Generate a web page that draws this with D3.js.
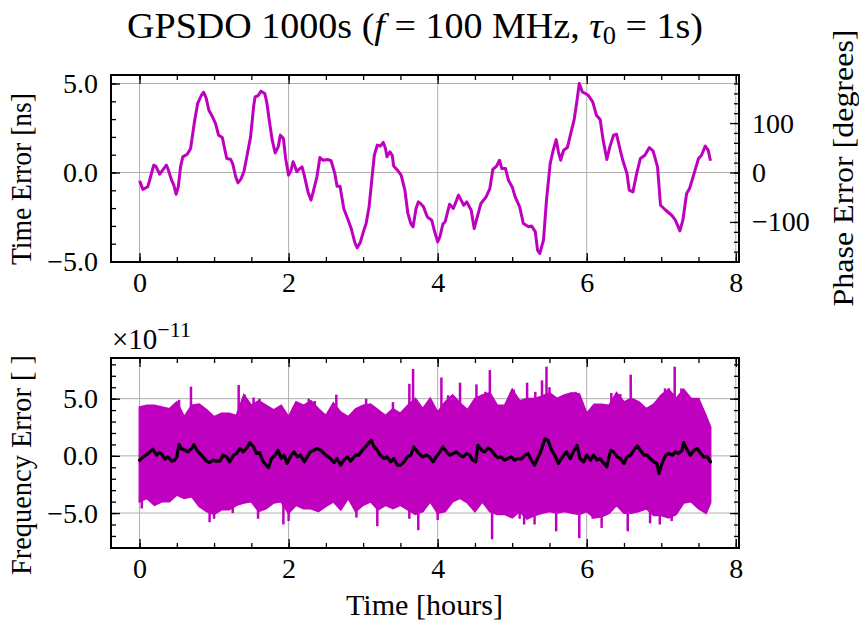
<!DOCTYPE html>
<html><head><meta charset="utf-8">
<script src="https://cdn.jsdelivr.net/npm/d3@7"></script>
<style>
body{margin:0;background:#fff}
svg{display:block}
text{font-family:"Liberation Serif","Times New Roman",serif;fill:#000}
</style>
</head><body>
<svg id="c" width="859" height="624"></svg>
<script>
// ---------- DATA ----------
// Time error (ns) vs time (hours)
const teHours = [0,0.045,0.11,0.13,0.19,0.22,0.27,0.31,0.36,0.38,0.43,0.46,0.49,0.52,0.55,0.58,0.64,0.685,0.74,0.78,0.83,0.86,0.895,0.93,0.975,1.02,1.06,1.11,1.17,1.22,1.25,1.29,1.32,1.36,1.40,1.43,1.49,1.53,1.55,1.59,1.63,1.68,1.71,1.74,1.78,1.82,1.86,1.89,1.93,1.96,2.0,2.03,2.06,2.08,2.11,2.15,2.18,2.21,2.26,2.30,2.33,2.38,2.42,2.46,2.53,2.57,2.62,2.65,2.69,2.74,2.80,2.84,2.89,2.92,2.96,3.01,3.04,3.08,3.12,3.15,3.19,3.23,3.27,3.30,3.32,3.36,3.39,3.41,3.46,3.51,3.56,3.60,3.64,3.67,3.71,3.74,3.77,3.81,3.86,3.92,3.96,4.0,4.03,4.07,4.10,4.16,4.21,4.28,4.35,4.39,4.45,4.49,4.52,4.58,4.65,4.70,4.74,4.79,4.83,4.86,4.91,4.95,5.0,5.04,5.10,5.15,5.22,5.26,5.31,5.34,5.37,5.42,5.46,5.51,5.55,5.59,5.62,5.65,5.69,5.74,5.78,5.83,5.87,5.90,5.94,5.98,6.02,6.08,6.13,6.18,6.22,6.27,6.31,6.36,6.40,6.45,6.49,6.54,6.57,6.62,6.67,6.72,6.78,6.84,6.89,6.95,6.99,7.06,7.14,7.19,7.25,7.29,7.34,7.38,7.44,7.50,7.54,7.59,7.63,7.66];
const teNs = [-0.47,-0.95,-0.8,-0.52,0.41,0.35,-0.09,0.13,0.41,0.22,-0.43,-0.71,-1.22,-0.8,0.32,0.88,1.03,1.35,2.94,3.88,4.34,4.51,4.16,3.5,3.16,2.75,2.1,1.97,0.79,0.75,0.5,-0.24,-0.58,-0.37,0.04,0.69,2.0,3.69,4.25,4.31,4.57,4.44,3.88,2.94,1.82,1.1,1.44,2.1,1.91,0.79,-0.15,0.09,0.6,0.41,0.04,0.22,0.32,-0.15,-1.09,-1.55,-1.09,-0.24,0.84,0.69,0.73,0.66,-0.06,-0.77,-0.77,-2.02,-2.68,-3.15,-3.95,-4.23,-3.95,-3.24,-2.87,-1.93,-0.24,0.97,1.54,1.48,1.69,1.35,0.88,1.16,0.97,0.36,0.13,-0.15,-0.99,-2.3,-2.87,-3.05,-2.02,-1.65,-1.74,-1.93,-2.49,-2.68,-3.33,-3.9,-3.61,-2.9,-2.77,-1.78,-2.02,-1.27,-1.84,-1.65,-2.12,-3.15,-2.68,-1.74,-1.37,-0.9,0.17,0.36,0.69,0.22,0.22,-0.43,-0.81,-1.37,-1.93,-2.87,-3.05,-3.0,-3.33,-4.36,-4.55,-3.8,-1.55,0.51,1.25,1.85,1.16,0.69,1.25,1.4,2.1,2.94,4.06,5.0,4.53,4.44,4.34,3.97,3.22,2.98,1.82,0.73,1.44,2.1,2.15,1.25,0.6,-0.06,-0.99,-1.09,-0.06,0.79,0.97,1.4,1.22,0.32,-1.84,-2.12,-2.4,-2.68,-3.28,-2.68,-1.18,-0.9,-0.06,0.79,0.97,1.48,1.25,0.66];

// Frequency error (x1e-11): envelope of the dense 1 s samples
const envHours = [0.0,0.1,0.2,0.3,0.4,0.5,0.6,0.7,0.8,0.9,1.0,1.1,1.2,1.3,1.4,1.5,1.6,1.7,1.8,1.9,2.0,2.1,2.2,2.3,2.4,2.5,2.6,2.7,2.8,2.9,3.0,3.1,3.2,3.3,3.4,3.5,3.6,3.7,3.8,3.9,4.0,4.1,4.2,4.3,4.4,4.5,4.6,4.7,4.8,4.9,5.0,5.1,5.2,5.3,5.4,5.5,5.6,5.7,5.8,5.9,6.0,6.1,6.2,6.3,6.4,6.5,6.6,6.7,6.8,6.9,7.0,7.1,7.2,7.3,7.4,7.5,7.6,7.66];
const envHigh = [4.25,4.4,4.4,4.25,4.1,4.7,3.4,4.4,4.5,4.0,3.4,3.7,3.7,3.5,5.3,4.4,4.8,4.4,4.0,4.4,3.4,4.7,4.4,4.8,4.1,3.5,4.6,3.8,3.4,4.1,4.4,4.5,4.0,3.5,4.1,3.7,4.4,5.0,4.1,5.0,3.8,4.7,5.3,4.6,4.0,5.0,5.3,5.5,4.4,4.4,5.8,4.8,5.0,5.0,5.2,5.5,5.0,5.3,5.5,5.4,3.7,4.5,4.5,4.4,5.5,4.7,5.0,4.7,4.1,4.5,5.3,5.8,5.0,5.8,5.0,5.0,3.5,2.5];
const envLow = [-4.0,-3.7,-4.3,-4.0,-4.0,-3.4,-3.7,-3.55,-4.4,-4.85,-5.1,-4.7,-4.7,-4.3,-4.1,-4.0,-4.85,-4.6,-4.1,-4.0,-5.0,-4.3,-4.6,-4.6,-4.85,-4.4,-4.0,-4.7,-3.7,-4.85,-4.3,-4.0,-4.7,-4.3,-4.6,-4.3,-4.7,-5.1,-4.85,-4.0,-5.0,-4.85,-4.0,-3.7,-4.1,-4.85,-4.0,-4.85,-5.1,-5.1,-5.4,-4.85,-5.5,-5.2,-5.0,-4.85,-5.0,-4.85,-5.0,-5.1,-4.85,-5.4,-5.3,-5.0,-4.3,-5.0,-5.0,-4.85,-4.6,-5.2,-5.2,-5.4,-5.1,-4.1,-4.0,-4.6,-5.0,-4.1];
// Individual spikes (hours, x1e-11)
const spikeHours = [0.53,0.69,1.33,1.41,1.53,1.61,2.27,2.35,2.64,3.04,3.40,3.62,3.67,4.05,4.14,4.30,4.52,4.64,4.70,4.98,5.02,5.20,5.31,5.40,5.46,5.50,5.85,6.33,6.45,6.59,7.05,7.10,7.18,7.27,7.50,
                    0.03,0.94,1.00,1.25,1.59,1.93,2.00,2.91,3.19,3.62,3.74,4.00,4.73,5.10,5.16,5.30,5.59,5.90,6.08,6.20,6.55,6.85,6.98,7.14];
const spikeVals = [4.9,6.05,6.2,5.35,5.1,5.0,5.0,4.8,5.35,5.0,4.7,6.3,7.6,6.85,5.3,6.4,6.25,5.6,7.5,5.5,5.8,6.4,5.6,6.6,7.8,6.0,5.6,5.5,5.4,7.1,5.9,5.9,7.8,5.9,5.0,
                   -4.6,-5.8,-5.5,-5.0,-5.5,-6.0,-5.7,-5.4,-6.15,-5.5,-6.5,-5.6,-7.3,-5.5,-6.0,-6.0,-6.6,-7.2,-5.5,-6.3,-6.6,-5.9,-6.0,-5.7];
// Moving average of frequency error (x1e-11)
const avgHours = [0.00,0.05,0.10,0.14,0.18,0.23,0.27,0.30,0.34,0.38,0.43,0.47,0.50,0.53,0.56,0.61,0.65,0.70,0.73,0.77,0.81,0.85,0.90,0.94,0.99,1.03,1.08,1.12,1.17,1.21,1.26,1.30,1.35,1.39,1.44,1.48,1.53,1.57,1.61,1.66,1.73,1.77,1.82,1.86,1.90,1.94,1.98,2.03,2.07,2.12,2.16,2.21,2.25,2.29,2.34,2.38,2.43,2.50,2.56,2.61,2.65,2.70,2.74,2.79,2.83,2.90,2.94,2.99,3.03,3.08,3.11,3.14,3.19,3.23,3.28,3.32,3.37,3.41,3.46,3.50,3.55,3.59,3.64,3.68,3.73,3.77,3.80,3.85,3.89,3.94,3.98,4.03,4.07,4.12,4.16,4.21,4.25,4.30,4.34,4.39,4.43,4.47,4.51,4.54,4.59,4.63,4.68,4.72,4.77,4.81,4.85,4.90,4.94,4.99,5.03,5.08,5.12,5.17,5.21,5.26,5.30,5.35,5.39,5.44,5.48,5.53,5.57,5.62,5.66,5.73,5.78,5.83,5.87,5.91,5.96,6.00,6.05,6.09,6.14,6.18,6.23,6.27,6.32,6.36,6.41,6.45,6.50,6.54,6.59,6.63,6.68,6.72,6.77,6.81,6.85,6.90,6.94,6.97,7.01,7.06,7.10,7.15,7.19,7.23,7.28,7.30,7.35,7.39,7.44,7.48,7.53,7.57,7.62,7.66];
const avgVals = [-0.38,-0.09,0.12,0.35,0.58,0.06,0.29,0.12,-0.29,-0.09,-0.46,-0.38,-0.09,0.98,0.64,0.49,0.35,0.64,0.98,0.49,0.20,-0.09,-0.46,-0.58,-0.38,-0.46,-0.46,0.06,-0.09,-0.52,0.06,0.20,0.64,0.35,0.69,1.16,0.78,0.20,0.29,-0.52,-1.04,-0.23,0.06,0.49,-0.23,0.06,-0.66,0.0,0.35,-0.09,0.06,-0.52,-0.09,0.35,0.49,0.64,0.49,0.06,-0.23,-0.58,-0.23,-0.81,-0.38,-0.09,-0.46,0.06,0.06,0.49,0.78,1.16,1.36,0.87,0.49,0.06,-0.23,-0.09,-0.52,-0.23,-0.81,-0.81,-0.52,-0.09,0.06,0.78,0.35,0.06,-0.09,0.06,-0.09,-0.52,-0.09,0.35,0.78,0.35,0.06,0.20,0.35,0.06,-0.09,0.20,0.06,-0.38,-0.52,0.92,0.49,0.35,0.69,0.49,0.06,-0.17,-0.09,-0.38,-0.23,-0.09,-0.38,-0.23,-0.29,0.06,0.20,-0.38,-0.81,-0.09,0.49,1.50,1.36,0.49,0.06,-0.66,-0.23,0.35,-0.23,0.49,0.92,-0.23,-0.52,0.06,-0.38,0.06,-0.38,-0.23,-0.66,-0.95,0.49,0.35,-0.09,-0.23,-0.66,-0.09,0.06,0.49,0.87,0.49,0.06,0.06,-0.23,-0.52,-0.66,-1.53,-0.66,0.06,0.20,0.06,0.35,0.20,0.49,1.16,0.49,0.06,0.49,0.64,0.20,-0.09,-0.09,-0.52];

// Tick values / labels
const xTickVals = [0, 2, 4, 6, 8];
const teTickVals = [-5, 0, 5];
const phaseTickVals = [-100, 0, 100];
const feTickVals = [-5, 0, 5];
const titleParts = ["GPSDO 1000s (", "f", " = 100 MHz, ", "τ", "0", " = 1s)"];
const degPerNs = 36; // 360° × 100 MHz × 1 ns

// ---------- LAYOUT ----------
const MAG = "#bf00bf";
const svg = d3.select("#c");
const L = 111, R = 739;
const top1 = 75, bot1 = 262, top2 = 358, bot2 = 548;
const FS = 28;
const minus = s => s.replace(/-/g, "\u2212");

function padDomain(lo, hi){ const p = (hi - lo) * 0.05; return [lo - p, hi + p]; }

const xMax = d3.max(teHours);
const x = d3.scaleLinear().domain(padDomain(0, xMax)).range([L, R]);
const y1 = d3.scaleLinear().domain(padDomain(d3.min(teNs), d3.max(teNs))).range([bot1, top1]);
const yPh = d3.scaleLinear().domain(y1.domain().map(v => v * degPerNs)).range([bot1, top1]);
const allF = envHigh.concat(envLow, spikeVals, avgVals);
const y2 = d3.scaleLinear().domain(padDomain(d3.min(allF), d3.max(allF))).range([bot2, top2]);

const xMinor = d3.range(0, 8.01, 0.5);
const y1Minor = d3.range(-5, 5.01, 1);
const phMinor = d3.range(-180, 181, 20);
const y2Minor = d3.range(-8, 8.01, 1);

const defs = svg.append("defs");
defs.append("clipPath").attr("id","cp1").append("rect").attr("x",L).attr("y",top1).attr("width",R-L).attr("height",bot1-top1);
defs.append("clipPath").attr("id","cp2").append("rect").attr("x",L).attr("y",top2).attr("width",R-L).attr("height",bot2-top2);

function grid(yScale, yVals, t, b){
  const g = svg.append("g").attr("stroke","#b0b0b0").attr("stroke-width",1);
  xTickVals.forEach(v => { if (x(v) > L && x(v) < R) g.append("line").attr("x1",x(v)).attr("x2",x(v)).attr("y1",t).attr("y2",b); });
  yVals.forEach(v => g.append("line").attr("x1",L).attr("x2",R).attr("y1",yScale(v)).attr("y2",yScale(v)));
}

function styleAxis(g){
  g.select(".domain").remove();
  g.selectAll(".tick line").attr("stroke","#000").attr("stroke-width",1.3);
  g.selectAll("text").style("font-size", FS + "px").attr("fill","#000").style("font-family",'"Liberation Serif",serif');
}

function frame(yL, yLmaj, yLmin, yR, yRmaj, yRmin, t, b, showRightLabels){
  styleAxis(svg.append("g").attr("transform",`translate(0,${b})`)
    .call(d3.axisBottom(x).tickValues(xTickVals).tickSize(-9).tickPadding(10).tickFormat(d3.format("d"))));
  styleAxis(svg.append("g").attr("transform",`translate(0,${b})`)
    .call(d3.axisBottom(x).tickValues(xMinor).tickSize(-5).tickFormat("")));
  styleAxis(svg.append("g").attr("transform",`translate(0,${t})`)
    .call(d3.axisTop(x).tickValues(xTickVals).tickSize(-9).tickFormat("")));
  styleAxis(svg.append("g").attr("transform",`translate(0,${t})`)
    .call(d3.axisTop(x).tickValues(xMinor).tickSize(-5).tickFormat("")));
  styleAxis(svg.append("g").attr("transform",`translate(${L},0)`)
    .call(d3.axisLeft(yL).tickValues(yLmaj).tickSize(-9).tickPadding(13).tickFormat(d => minus(d3.format(".1f")(d)))));
  styleAxis(svg.append("g").attr("transform",`translate(${L},0)`)
    .call(d3.axisLeft(yL).tickValues(yLmin.filter(v => yL(v) >= t && yL(v) <= b)).tickSize(-5).tickFormat("")));
  styleAxis(svg.append("g").attr("transform",`translate(${R},0)`)
    .call(d3.axisRight(yR).tickValues(yRmaj).tickSize(-9).tickPadding(13).tickFormat(showRightLabels ? (d => minus(String(d))) : "")));
  styleAxis(svg.append("g").attr("transform",`translate(${R},0)`)
    .call(d3.axisRight(yR).tickValues(yRmin.filter(v => yR(v) >= t && yR(v) <= b)).tickSize(-5).tickFormat("")));
  svg.append("rect").attr("x",L).attr("y",t).attr("width",R-L).attr("height",b-t)
    .attr("fill","none").attr("stroke","#000").attr("stroke-width",2);
}

// ---------- TOP PANEL ----------
grid(y1, teTickVals, top1, bot1);
const teData = teHours.map((h,i) => [h, teNs[i]]);
svg.append("path").datum(teData).attr("clip-path","url(#cp1)")
  .attr("d", d3.line().x(d => x(d[0])).y(d => y1(d[1])))
  .attr("fill","none").attr("stroke",MAG).attr("stroke-width",3).attr("stroke-linejoin","round");
frame(y1, teTickVals, y1Minor, yPh, phaseTickVals, phMinor, top1, bot1, true);

// ---------- BOTTOM PANEL ----------
grid(y2, feTickVals, top2, bot2);
const envData = envHours.map((h,i) => [h, envLow[i], envHigh[i]]);
const gB = svg.append("g").attr("clip-path","url(#cp2)");
gB.append("path").datum(envData)
  .attr("d", d3.area().x(d => x(d[0])).y0(d => y2(d[1])).y1(d => y2(d[2])))
  .attr("fill",MAG).attr("stroke",MAG).attr("stroke-width",2).attr("stroke-linejoin","miter");
gB.selectAll("line.spk").data(spikeHours.map((h,i)=>[h, spikeVals[i]])).enter().append("line")
  .attr("x1", d => x(d[0])).attr("x2", d => x(d[0]))
  .attr("y1", y2(0)).attr("y2", d => y2(d[1]))
  .attr("stroke",MAG).attr("stroke-width",2.5);
gB.append("path").datum(avgHours.map((h,i)=>[h, avgVals[i]]))
  .attr("d", d3.line().x(d => x(d[0])).y(d => y2(d[1])))
  .attr("fill","none").attr("stroke","#000").attr("stroke-width",3.2).attr("stroke-linejoin","round").attr("stroke-linecap","round");
frame(y2, feTickVals, y2Minor, y2, feTickVals, y2Minor, top2, bot2, false);

// ---------- TEXT ----------
const title = svg.append("text").attr("x", 415).attr("y", 38).attr("text-anchor","middle").style("font-size","36px");
title.append("tspan").text(titleParts[0]);
title.append("tspan").style("font-style","italic").text(titleParts[1]);
title.append("tspan").text(titleParts[2]);
title.append("tspan").style("font-style","italic").text(titleParts[3]);
title.append("tspan").attr("dy", 6).style("font-size","25px").text(titleParts[4]);
title.append("tspan").attr("dy", -6).text(titleParts[5]);
title.attr("textLength", 576).attr("lengthAdjust", "spacingAndGlyphs");

function rotLabel(cx, cy, txt, len){
  svg.append("text").attr("transform",`translate(${cx},${cy}) rotate(-90)`).attr("text-anchor","middle")
    .style("font-size", "29px").attr("textLength", len).attr("lengthAdjust","spacingAndGlyphs").text(txt);
}
rotLabel(31, 179, "Time Error [ns]", 172);
rotLabel(853, 168, "Phase Error [degrees]", 277);
rotLabel(31, 465, "Frequency Error [ ]", 220);
svg.append("text").attr("x",424.5).attr("y",615).attr("text-anchor","middle")
  .style("font-size", "29px").attr("textLength",157).attr("lengthAdjust","spacingAndGlyphs").text("Time [hours]");
const off = svg.append("text").attr("x",112).attr("y",349).style("font-size", "29px");
off.append("tspan").text("×10");
off.append("tspan").attr("dy",-12).style("font-size","22px").text("\u221211");
</script>
</body></html>
